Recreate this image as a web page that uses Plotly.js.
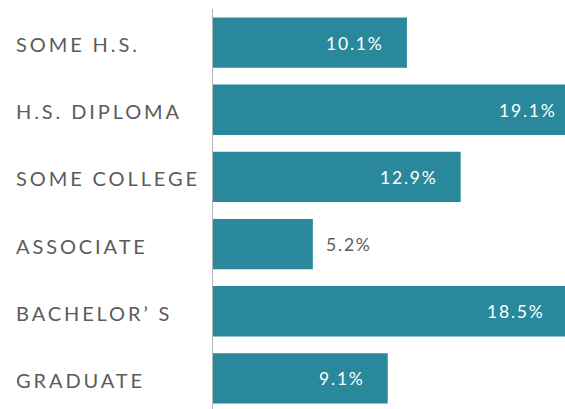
<!DOCTYPE html>
<html>
<head>
<meta charset="utf-8">
<script src="https://cdn.plot.ly/plotly-3.0.1.min.js"></script>
<style>
html, body { margin: 0; padding: 0; overflow: hidden; background: #fff; width: 565px; height: 409px; }
#chart { width: 600px; height: 420px; }
text[style*="font-size: 20px"] { letter-spacing: 2.9px; }
text[style*="font-size: 17.5px"] { letter-spacing: 1.8px; }
</style>
</head>
<body>
<div id="chart"></div>
<script>
var categories = ["SOME H.S.", "H.S. DIPLOMA", "SOME COLLEGE", "ASSOCIATE", "BACHELOR\u2019 S", "GRADUATE"];
var values = [10.1, 19.1, 12.9, 5.2, 18.5, 9.1];
var valueLabels = ["10.1%", "19.1%", "12.9%", "5.2%", "18.5%", "9.1%"];

var BAR = "#29889b";
var GREY = "#5b5b5b";
var FONT = "Lato, 'Noto Sans', sans-serif";

var trace = {
  type: "bar",
  orientation: "h",
  y: categories,
  x: values,
  marker: { color: BAR },
  hoverinfo: "none",
  cliponaxis: true
};

var annotations = [];
categories.forEach(function (c, i) {
  annotations.push({
    xref: "paper", yref: "y", x: -0.519, y: c,
    xanchor: "left", yanchor: "middle", yshift: -1.5,
    text: c, showarrow: false,
    font: { family: FONT, size: 20, color: GREY }
  });
  var outside = values[i] < 6;
  annotations.push({
    xref: "x", yref: "y", x: values[i], y: c,
    xanchor: outside ? "left" : "right", yanchor: "middle",
    xshift: outside ? 11 : -21, yshift: -0.5,
    text: valueLabels[i], showarrow: false,
    font: { family: FONT, size: 17.5, color: outside ? GREY : "#ffffff" }
  });
});

var layout = {
  width: 600, height: 420,
  margin: { l: 213, r: 3, t: 9, b: 8 },
  paper_bgcolor: "#fff", plot_bgcolor: "#fff",
  bargap: 0.25,
  showlegend: false,
  xaxis: { range: [0, 20], visible: false, fixedrange: true },
  yaxis: {
    autorange: "reversed",
    showticklabels: false, ticks: "",
    showgrid: false, zeroline: false,
    showline: true, linecolor: "#b5b5b5", linewidth: 1,
    fixedrange: true
  },
  annotations: annotations,
  font: { family: FONT }
};

Plotly.newPlot("chart", [trace], layout, { displayModeBar: false, staticPlot: true });
</script>
</body>
</html>
